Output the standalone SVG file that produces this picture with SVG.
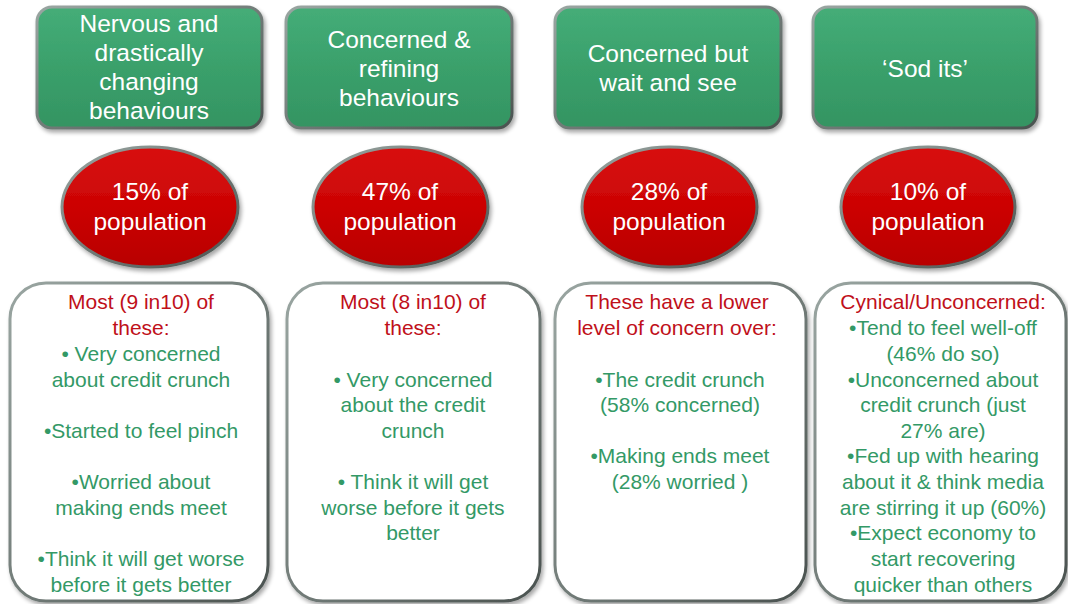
<svg xmlns="http://www.w3.org/2000/svg" width="1068" height="604" viewBox="0 0 1068 604">
  <defs>
    <linearGradient id="gGreen" x1="0" y1="0" x2="0" y2="1">
      <stop offset="0" stop-color="#45ad78"/>
      <stop offset="0.5" stop-color="#3aa06b"/>
      <stop offset="1" stop-color="#349462"/>
    </linearGradient>
    <linearGradient id="gRed" x1="0" y1="0" x2="0" y2="1">
      <stop offset="0" stop-color="#d81010"/>
      <stop offset="0.5" stop-color="#cc0404"/>
      <stop offset="1" stop-color="#b80000"/>
    </linearGradient>
    <linearGradient id="gRim" x1="0" y1="0" x2="1" y2="1">
      <stop offset="0" stop-color="#9aa6a2"/>
      <stop offset="1" stop-color="#4a524f"/>
    </linearGradient>
    <filter id="shadow" x="-10%" y="-10%" width="125%" height="125%">
      <feGaussianBlur in="SourceAlpha" stdDeviation="2"/>
      <feOffset dx="2" dy="3" result="b"/>
      <feComponentTransfer><feFuncA type="linear" slope="0.35"/></feComponentTransfer>
      <feMerge><feMergeNode/><feMergeNode in="SourceGraphic"/></feMerge>
    </filter>
  </defs>
  <style>
    .head { fill: url(#gGreen); stroke: url(#gRim); stroke-width: 3; filter: url(#shadow); }
    .pct { fill: url(#gRed); stroke: url(#gRim); stroke-width: 3; filter: url(#shadow); }
    .card { fill: #ffffff; stroke: url(#gRim); stroke-width: 3; filter: url(#shadow); }
    text { font-family: "Liberation Sans", Arial, sans-serif; text-anchor: middle; }
    .ht { fill: #ffffff; font-size: 24.5px; }
    .pt { fill: #ffffff; font-size: 24.5px; }
    .red { fill: #c0101a; font-size: 21px; }
    .grn { fill: #339966; font-size: 21px; }
  </style>

  <rect width="1068" height="604" fill="#ffffff"/>

  <!-- Segment 1 -->
  <g id="seg1-head">
    <rect class="head" x="37" y="7" width="225" height="121" rx="15"/>
    <text class="ht" x="149" y="32">Nervous and</text>
    <text class="ht" x="149" y="61">drastically</text>
    <text class="ht" x="149" y="90">changing</text>
    <text class="ht" x="149" y="119">behaviours</text>
  </g>
  <g id="seg1-pct">
    <rect class="pct" x="62" y="147" width="176" height="120" rx="88" ry="60"/>
    <text class="pt" x="150" y="200">15% of</text>
    <text class="pt" x="150" y="230">population</text>
  </g>
  <g id="seg1-card">
    <rect class="card" x="10" y="283" width="258" height="318" rx="36"/>
    <text class="red" x="141" y="309">Most (9 in10) of</text>
    <text class="red" x="141" y="335">these:</text>
    <text class="grn" x="141" y="361">• Very concerned</text>
    <text class="grn" x="141" y="387">about credit crunch</text>
    <text class="grn" x="141" y="438">•Started to feel pinch</text>
    <text class="grn" x="141" y="489">•Worried about</text>
    <text class="grn" x="141" y="515">making ends meet</text>
    <text class="grn" x="141" y="566">•Think it will get worse</text>
    <text class="grn" x="141" y="592">before it gets better</text>
  </g>

  <!-- Segment 2 -->
  <g id="seg2-head">
    <rect class="head" x="286" y="7" width="226" height="121" rx="15"/>
    <text class="ht" x="399" y="48">Concerned &amp;</text>
    <text class="ht" x="399" y="77">refining</text>
    <text class="ht" x="399" y="106">behaviours</text>
  </g>
  <g id="seg2-pct">
    <rect class="pct" x="313" y="147" width="175" height="120" rx="87" ry="60"/>
    <text class="pt" x="400" y="200">47% of</text>
    <text class="pt" x="400" y="230">population</text>
  </g>
  <g id="seg2-card">
    <rect class="card" x="287" y="283" width="253" height="318" rx="36"/>
    <text class="red" x="413" y="309">Most (8 in10) of</text>
    <text class="red" x="413" y="335">these:</text>
    <text class="grn" x="413" y="387">• Very concerned</text>
    <text class="grn" x="413" y="412">about the credit</text>
    <text class="grn" x="413" y="438">crunch</text>
    <text class="grn" x="413" y="489">• Think it will get</text>
    <text class="grn" x="413" y="515">worse before it gets</text>
    <text class="grn" x="413" y="540">better</text>
  </g>

  <!-- Segment 3 -->
  <g id="seg3-head">
    <rect class="head" x="555" y="7" width="226" height="121" rx="15"/>
    <text class="ht" x="668" y="62">Concerned but</text>
    <text class="ht" x="668" y="91">wait and see</text>
  </g>
  <g id="seg3-pct">
    <rect class="pct" x="582" y="147" width="175" height="120" rx="87" ry="60"/>
    <text class="pt" x="669" y="200">28% of</text>
    <text class="pt" x="669" y="230">population</text>
  </g>
  <g id="seg3-card">
    <rect class="card" x="555" y="283" width="251" height="318" rx="36"/>
    <text class="red" x="677" y="309">These have a lower</text>
    <text class="red" x="677" y="335">level of concern over:</text>
    <text class="grn" x="680" y="387">•The credit crunch</text>
    <text class="grn" x="680" y="412">(58% concerned)</text>
    <text class="grn" x="680" y="463">•Making ends meet</text>
    <text class="grn" x="680" y="489">(28% worried )</text>
  </g>

  <!-- Segment 4 -->
  <g id="seg4-head">
    <rect class="head" x="813" y="7" width="224" height="121" rx="15"/>
    <text class="ht" x="925" y="77">‘Sod its’</text>
  </g>
  <g id="seg4-pct">
    <rect class="pct" x="841" y="147" width="174" height="120" rx="87" ry="60"/>
    <text class="pt" x="928" y="200">10% of</text>
    <text class="pt" x="928" y="230">population</text>
  </g>
  <g id="seg4-card">
    <rect class="card" x="815" y="283" width="251" height="318" rx="36"/>
    <text class="red" x="943" y="309">Cynical/Unconcerned:</text>
    <text class="grn" x="943" y="335">•Tend to feel well-off</text>
    <text class="grn" x="943" y="361">(46% do so)</text>
    <text class="grn" x="943" y="387">•Unconcerned about</text>
    <text class="grn" x="943" y="412">credit crunch (just</text>
    <text class="grn" x="943" y="438">27% are)</text>
    <text class="grn" x="943" y="463">•Fed up with hearing</text>
    <text class="grn" x="943" y="489">about it &amp; think media</text>
    <text class="grn" x="943" y="515">are stirring it up (60%)</text>
    <text class="grn" x="943" y="540">•Expect economy to</text>
    <text class="grn" x="943" y="566">start recovering</text>
    <text class="grn" x="943" y="592">quicker than others</text>
  </g>

  <!-- no connectors between nodes -->
  <g id="connectors"/>
</svg>
